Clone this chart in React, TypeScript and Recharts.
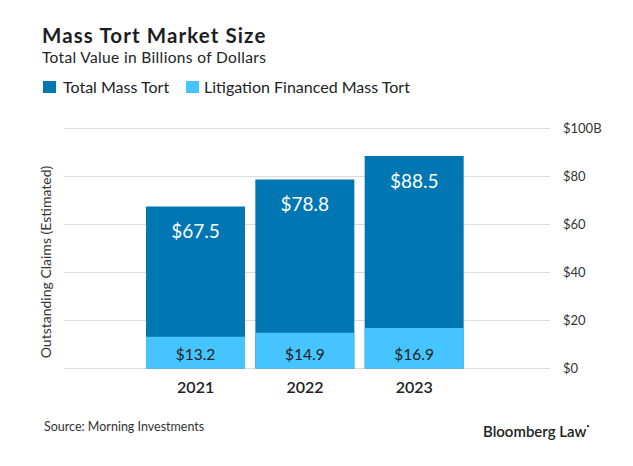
import { BarChart, Bar, XAxis, YAxis, CartesianGrid, LabelList } from 'recharts';

const years = ['2021', '2022', '2023'];
const totalMassTort = [67.5, 78.8, 88.5];
const litigationFinanced = [13.2, 14.9, 16.9];
const yTicks = [0, 20, 40, 60, 80, 100];
const yTickLabels = ['$0', '$20', '$40', '$60', '$80', '$100B'];

const DARK = '#0077b3';
const LIGHT = '#45c4ff';
const FONT = 'Lato, "Noto Sans", sans-serif';

const data = years.map((year, i) => ({
  year,
  total: totalMassTort[i],
  financed: litigationFinanced[i],
}));

interface LabelProps {
  x?: number;
  y?: number;
  width?: number;
  height?: number;
  value?: number;
}

function TotalLabel({ x = 0, y = 0, width = 0, value }: LabelProps) {
  return (
    <text
      x={x + width / 2}
      y={y + 24}
      textAnchor="middle"
      dominantBaseline="central"
      fill="#fff"
      fontSize={19}
      fontFamily={FONT}
    >
      {`$${Number(value).toFixed(1)}`}
    </text>
  );
}

function FinancedLabel({ x = 0, y = 0, width = 0, height = 0, value }: LabelProps) {
  return (
    <text
      x={x + width / 2}
      y={y + height - 15}
      textAnchor="middle"
      dominantBaseline="central"
      fill="#222"
      fontSize={15.5}
      fontFamily={FONT}
    >
      {`$${Number(value).toFixed(1)}`}
    </text>
  );
}

const abs = (style: React.CSSProperties): React.CSSProperties => ({
  position: 'absolute',
  lineHeight: 1,
  whiteSpace: 'nowrap',
  fontFamily: FONT,
  ...style,
});

export default function App() {
  return (
    <div style={{ position: 'absolute', left: 0, top: 0, width: 633, height: 466, background: '#fff' }}>
      <div
        style={abs({ left: 42, top: 25, fontSize: 20.5, fontWeight: 700, letterSpacing: 1.1, color: '#1d1d1f' })}
      >
        Mass Tort Market Size
      </div>
      <div style={abs({ left: 42, top: 50, fontSize: 15.5, letterSpacing: 0.35, color: '#222' })}>
        Total Value in Billions of Dollars
      </div>
      <div style={abs({ left: 43, top: 81, width: 13, height: 12, background: DARK })} />
      <div style={abs({ left: 63, top: 79, fontSize: 16, color: '#222' })}>Total Mass Tort</div>
      <div style={abs({ left: 186, top: 81, width: 13, height: 12, background: LIGHT })} />
      <div style={abs({ left: 204, top: 79, fontSize: 16, color: '#222' })}>
        Litigation Financed Mass Tort
      </div>
      <div
        style={abs({
          left: 46,
          top: 261.5,
          fontSize: 14,
          color: '#333',
          transform: 'translate(-50%, -50%) rotate(-90deg)',
        })}
      >
        Outstanding Claims (Estimated)
      </div>
      <div style={abs({ left: 44, top: 420.5, fontSize: 12.5, color: '#333' })}>
        Source: Morning Investments
      </div>
      <div style={abs({ left: 483, top: 424, fontSize: 15, fontWeight: 600, color: '#222' })}>
        Bloomberg Law<sup style={{ fontSize: 5, verticalAlign: 'top' }}>•</sup>
      </div>

      <div style={{ position: 'absolute', left: 0, top: 0 }}>
        <BarChart
          width={633}
          height={466}
          data={data}
          margin={{ top: 128.5, right: 43, bottom: 67.5, left: 64 }}
          barSize={99}
          barGap={-99}
        >
          <CartesianGrid vertical={false} stroke="#dcdcdc" />
          <XAxis
            dataKey="year"
            height={30}
            axisLine={false}
            tickLine={false}
            tickSize={0}
            tickMargin={13.5}
            padding={{ left: 77, right: 81 }}
            tick={{ fontSize: 16, fill: '#222', fontFamily: FONT, fontWeight: 600 }}
          />
          <YAxis
            orientation="right"
            width={40}
            domain={[0, 100]}
            ticks={yTicks}
            tickFormatter={(v: number) => yTickLabels[yTicks.indexOf(v)]}
            axisLine={false}
            tickLine={false}
            tickSize={0}
            tickMargin={13}
            tick={{ fontSize: 13, fill: '#333', fontFamily: FONT }}
          />
          <Bar dataKey="total" fill={DARK} isAnimationActive={false}>
            <LabelList dataKey="total" content={TotalLabel} />
          </Bar>
          <Bar dataKey="financed" fill={LIGHT} isAnimationActive={false}>
            <LabelList dataKey="financed" content={FinancedLabel} />
          </Bar>
        </BarChart>
      </div>
    </div>
  );
}
